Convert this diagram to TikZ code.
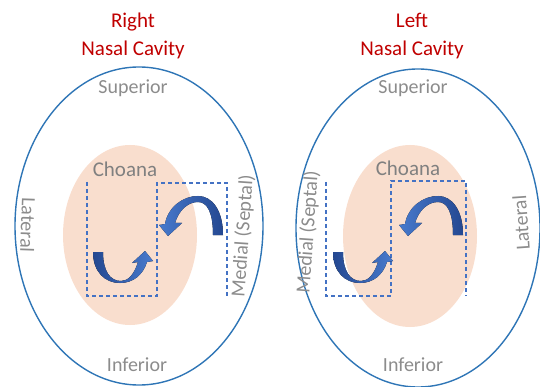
\documentclass[tikz,border=0pt]{standalone}
\usepackage{fontspec}
\setmainfont{Carlito}
\definecolor{ellblue}{RGB}{46,117,182}
\definecolor{pinkfill}{RGB}{249,222,206}
\definecolor{dashblue}{RGB}{68,114,196}
\definecolor{labelgray}{RGB}{140,140,140}
\definecolor{choanagray}{RGB}{128,128,128}
\definecolor{titlered}{RGB}{192,0,0}
\definecolor{arrowdark}{RGB}{36,72,145}
\definecolor{arrowlight}{RGB}{72,122,205}
\begin{document}
\begin{tikzpicture}[x=1pt,y=-1pt,
  cavity/.style={draw=ellblue, line width=1.4pt},
  choana/.style={fill=pinkfill, draw=none},
  guide/.style={draw=dashblue, line width=1.1pt, dash pattern=on 4pt off 3pt},
  lbl/.style={text=labelgray, font=\fontsize{20}{24}\selectfont, inner sep=0pt},
  chlbl/.style={text=choanagray, font=\fontsize{21}{25}\selectfont, inner sep=0pt},
  ttl/.style={text=titlered, font=\fontsize{21}{28}\selectfont, align=center, inner sep=0pt},
  uarrowfill/.style={left color=arrowdark, right color=arrowlight, draw=none},
  aarrowfill/.style={left color=arrowlight, right color=arrowdark, draw=none},
  uturnarrow/.pic={
    \fill[uarrowfill] (93,252) .. controls (93,272) and (105,283) .. (120,283)
      .. controls (133,283) and (143,275) .. (147,262)
      -- (153,261) -- (145,251) -- (132,263) -- (138,262)
      .. controls (134,275) and (128,281) .. (121,281)
      .. controls (110,281) and (103,271) .. (103,252) -- cycle;
  },
  archarrow/.pic={
    \fill[aarrowfill] (223,235) .. controls (223,210) and (212,196) .. (198,196)
      .. controls (183,196) and (168,207) .. (165,224)
      -- (159,225) -- (168,236) -- (182,223) -- (175,223)
      .. controls (179,210) and (188,202) .. (198,202)
      .. controls (207,202) and (213,212) .. (213,235) -- cycle;
  }
]
\useasboundingbox (0,0) rectangle (540,387);
% cavities
\draw[cavity] (139,226) ellipse [x radius=124, y radius=159];
\draw[cavity] (418,228) ellipse [x radius=122, y radius=159];
% choanae
\fill[choana] (130,235) ellipse [x radius=67, y radius=90];
\fill[choana] (410,236) ellipse [x radius=67, y radius=91];
% dashed guides
\draw[guide] (87,182) -- (87,296) -- (157,296) -- (157,183) -- (227,183) -- (227,296);
\draw[guide] (326,182) -- (326,296) -- (391,296) -- (391,181) -- (466,181) -- (466,296);
% arrows
\pic (rU) at (0,0) {uturnarrow};
\pic (rA) at (0,0) {archarrow};
\pic (lU) at (240,0) {uturnarrow};
\pic (lA) at (240,0) {archarrow};
% titles
\node[ttl] (rtitle) at (133,36) {Right\\Nasal Cavity};
\node[ttl] (ltitle) at (412,36) {Left\\Nasal Cavity};
% labels right cavity
\node[lbl] (rsup) at (133,88) {Superior};
\node[lbl] (rinf) at (137,365) {Inferior};
\node[lbl, rotate=-92] (rlat) at (28,225) {Lateral};
\node[lbl, rotate=86] (rmed) at (243,236) {Medial (Septal)};
\node[chlbl] (rcho) at (125,169) {Choana};
% labels left cavity
\node[lbl] (lsup) at (413,88) {Superior};
\node[lbl] (linf) at (413,365) {Inferior};
\node[lbl, rotate=94] (llat) at (521,223) {Lateral};
\node[lbl, rotate=86] (lmed) at (308,232) {Medial (Septal)};
\node[chlbl] (lcho) at (408,168) {Choana};
\end{tikzpicture}
\end{document}
